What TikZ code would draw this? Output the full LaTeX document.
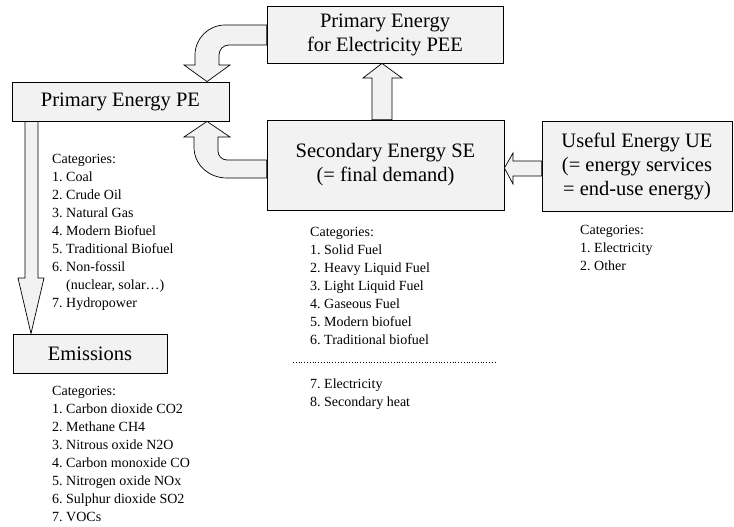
\documentclass[tikz,border=0pt]{standalone}
\usepackage{fontspec}
\setmainfont{Liberation Serif}
\frenchspacing
\usepackage{tikz}
\usetikzlibrary{calc}

\tikzset{
    box/.style={draw, line width=0.8pt, fill=black!5, align=center, inner sep=0pt,
        font=\fontsize{20.5}{24}\selectfont},
    blockarrow/.style={draw, line width=0.7pt, fill=black!5, line join=miter},
    catlist/.style={anchor=base west, align=left, inner sep=0pt,
        font=\fontsize{14}{18}\selectfont}
}

\begin{document}
\begin{tikzpicture}[x=1pt,y=-1pt]
    \useasboundingbox (0,0) rectangle (734,527);

    \node[box, minimum width=236pt, minimum height=57pt] (pee) at (385,34.5) {Primary Energy\\for Electricity PEE};
    \node[box, minimum width=217pt, minimum height=39pt] (pe) at (120.5,101.5) {Primary Energy PE};
    \node[box, minimum width=237pt, minimum height=90pt] (se) at (385.5,165) {Secondary Energy SE\\(= final demand)};
    \node[box, minimum width=190pt, minimum height=90pt] (ue) at (637,166) {Useful Energy UE\\(= energy services\\= end-use energy)};
    \node[box, minimum width=154pt, minimum height=39pt] (em) at (90,353.5) {Emissions};

    % curved arrows into PE
    \draw[blockarrow] (pee.west |- 0,25) -- (225,25) .. controls (208.5,25) and (195,38.5) .. (195,55)
        -- (195,65) -- (184,65) -- (207,0 |- pe.north) -- (230,65) -- (219,65) -- (219,55)
        .. controls (219,49.5) and (223.5,45) .. (229,45) -- (pee.west |- 0,45) -- cycle;
    \draw[blockarrow] (se.west |- 0,160) -- (227,160) .. controls (222,160) and (218,156) .. (218,151)
        -- (218,137) -- (230,137) -- (207,0 |- pe.south) -- (184,137) -- (194,137) -- (194,147)
        .. controls (194,165) and (209,178) .. (227,178) -- (se.west |- 0,178) -- cycle;

    % straight arrows
    \draw[blockarrow] (372,0 |- se.north) -- (372,78) -- (363,78) -- (382,0 |- pee.south)
        -- (402,78) -- (392,78) -- (392,0 |- se.north) -- cycle;
    \draw[blockarrow] (ue.west |- 0,161) -- (513,161) -- (513,153) -- (se.east |- 0,168)
        -- (513,184) -- (513,176) -- (ue.west |- 0,176) -- cycle;
    \draw[blockarrow] (25,0 |- pe.south) -- (25,278) -- (18,278) -- (31,0 |- em.north)
        -- (44,278) -- (38,278) -- (38,0 |- pe.south) -- cycle;

    % lists (base anchor sits on the last line)
    \node[catlist] (pelist) at (52,307) {Categories:\\1. Coal\\2. Crude Oil\\3. Natural Gas\\4. Modern Biofuel\\5. Traditional Biofuel\\6. Non-fossil\\\phantom{6. }(nuclear, solar…)\\7. Hydropower};
    \node[catlist] (selist) at (310,344) {Categories:\\1. Solid Fuel\\2. Heavy Liquid Fuel\\3. Light Liquid Fuel\\4. Gaseous Fuel\\5. Modern biofuel\\6. Traditional biofuel};
    \draw[dotted, line width=0.8pt] (293,362) -- (495,362);
    \node[catlist] (selist2) at (310,406) {7. Electricity\\8. Secondary heat};
    \node[catlist] (uelist) at (580,270) {Categories:\\1. Electricity\\2. Other};
    \node[catlist] (emlist) at (52,521) {Categories:\\1. Carbon dioxide CO2\\2. Methane CH4\\3. Nitrous oxide N2O\\4. Carbon monoxide CO\\5. Nitrogen oxide NOx\\6. Sulphur dioxide SO2\\7. VOCs};
\end{tikzpicture}
\end{document}
